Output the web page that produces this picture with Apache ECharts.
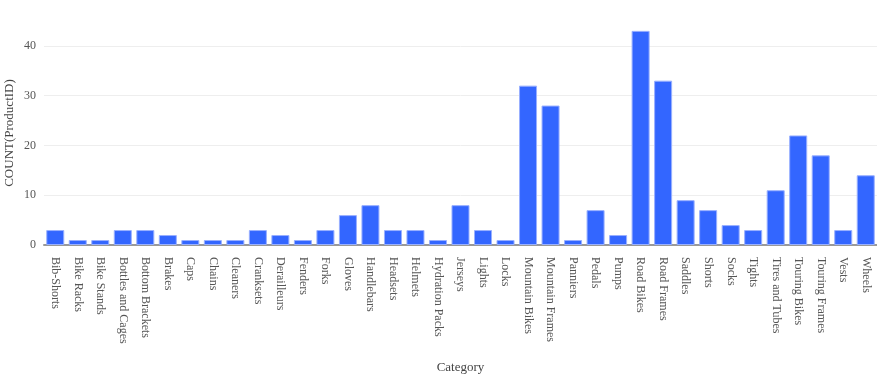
<!DOCTYPE html>
<html><head><meta charset="utf-8">
<script src="https://cdn.jsdelivr.net/npm/echarts@6/dist/echarts.min.js"></script>
<style>html,body{margin:0;padding:0;background:#fff}#c{width:877px;height:376px}</style>
</head><body><div id="c"></div>
<script>
const categories = ["Bib-Shorts","Bike Racks","Bike Stands","Bottles and Cages","Bottom Brackets","Brakes","Caps","Chains","Cleaners","Cranksets","Derailleurs","Fenders","Forks","Gloves","Handlebars","Headsets","Helmets","Hydration Packs","Jerseys","Lights","Locks","Mountain Bikes","Mountain Frames","Panniers","Pedals","Pumps","Road Bikes","Road Frames","Saddles","Shorts","Socks","Tights","Tires and Tubes","Touring Bikes","Touring Frames","Vests","Wheels"];
const counts = [3,1,1,3,3,2,1,1,1,3,2,1,3,6,8,3,3,1,8,3,1,32,28,1,7,2,43,33,9,7,4,3,11,22,18,3,14];
const yTicks = [0,10,20,30,40];
const yName = 'COUNT(ProductID)';
const font = '"Liberation Serif", "Times New Roman", serif';
const chart = echarts.init(document.getElementById('c'));
chart.setOption({
  animation:false,
  grid:{left:44,right:0,top:-4,bottom:131,containLabel:false,outerBoundsMode:'none'},
  graphic:[{type:'text',x:10,y:133,rotation:Math.PI/2,
    style:{text:yName,font:'13px '+font,fill:'#444',align:'center',verticalAlign:'middle'}}],
  xAxis:{type:'category',data:categories,name:'Category',nameLocation:'middle',nameGap:116,
    nameTextStyle:{fontFamily:font,fontSize:13,color:'#444'},
    axisLine:{lineStyle:{color:'#999',width:2}},axisTick:{show:false},
    axisLabel:{rotate:-90,interval:0,fontFamily:font,fontSize:12,color:'#555',margin:12}},
  yAxis:{type:'value',min:0,max:50,interval:10,
    axisLine:{show:false},axisTick:{show:false},
    axisLabel:{fontFamily:font,fontSize:12,color:'#555',margin:8,
      formatter:v=>yTicks.includes(v)?String(v):''},
    splitLine:{lineStyle:{color:'#eee'}}},
  series:[{type:'bar',data:counts,barCategoryGap:'20%',
    itemStyle:{color:'#3366ff',borderColor:'#99b0ff',borderWidth:1}}]
});
</script></body></html>
